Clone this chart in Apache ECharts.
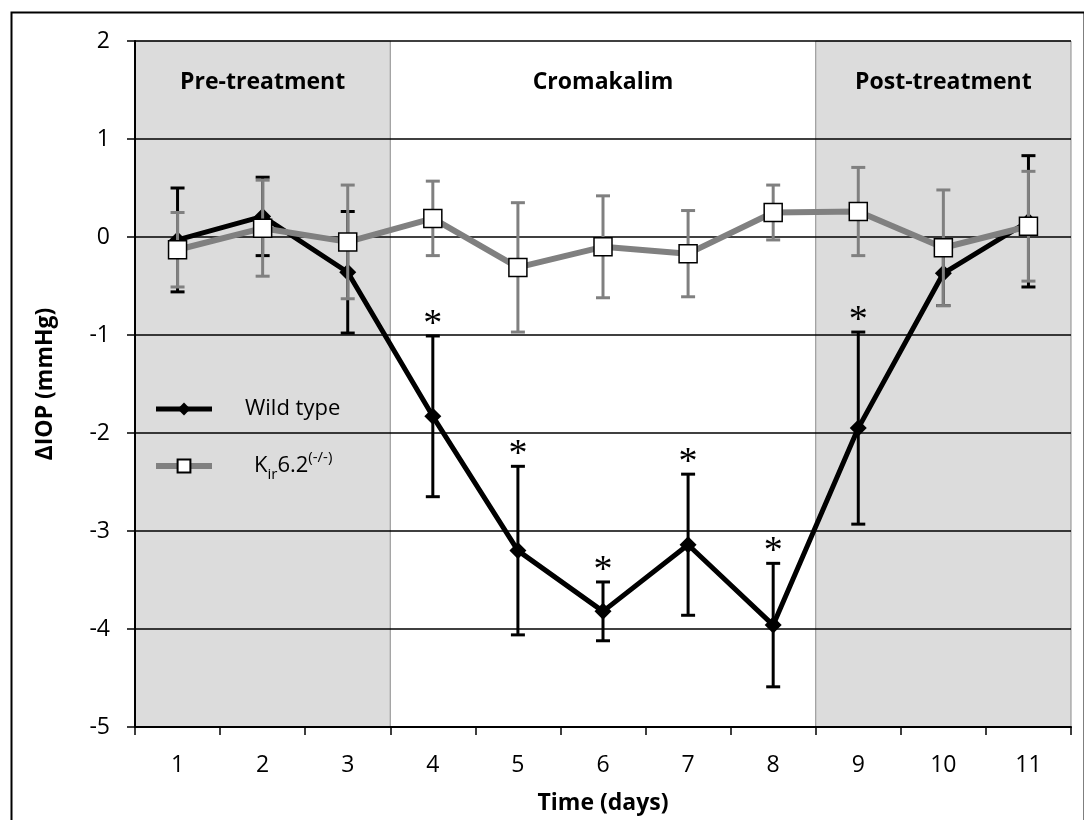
<!DOCTYPE html>
<html>
<head>
<meta charset="utf-8">
<script src="https://cdn.jsdelivr.net/npm/echarts@6/dist/echarts.min.js"></script>
<style>
html,body{margin:0;padding:0;background:#fff;}
#main{width:1084px;height:820px;}
</style>
</head>
<body>
<div id="main"></div>
<script>
// ---- data ----
var days = ['1','2','3','4','5','6','7','8','9','10','11'];
var wildType = [-0.03, 0.21, -0.36, -1.83, -3.20, -3.82, -3.14, -3.96, -1.95, -0.37, 0.16];
var wildTypeErr = [0.53, 0.40, 0.62, 0.82, 0.86, 0.30, 0.72, 0.63, 0.98, 0.33, 0.67];
var kir = [-0.13, 0.09, -0.05, 0.19, -0.31, -0.10, -0.17, 0.25, 0.26, -0.11, 0.11];
var kirErr = [0.38, 0.49, 0.58, 0.38, 0.66, 0.52, 0.44, 0.28, 0.45, 0.59, 0.56];
var sigDays = ['4','5','6','7','8','9'];
var phaseNames = ['Pre-treatment', 'Cromakalim', 'Post-treatment'];
var phaseFirstDay = [1, 4, 9];
var phaseLastDay = [3, 8, 11];
var phaseShaded = [true, false, true];
var yTicks = {min: -5, max: 2, interval: 1};

var FONT = 'Open Sans';

function errData(vals, errs, stars) {
  return vals.map(function (v, i) {
    return [i, v - errs[i], v + errs[i], stars && stars.indexOf(days[i]) >= 0 ? 1 : 0];
  });
}

function errRenderer(color, width, capHalf) {
  return function (params, api) {
    var i = api.value(0);
    var top = api.coord([i, api.value(2)]);
    var bot = api.coord([i, api.value(1)]);
    var st = {stroke: color, lineWidth: width};
    var children = [
      {type: 'line', shape: {x1: top[0], y1: top[1], x2: bot[0], y2: bot[1]}, style: st},
      {type: 'line', shape: {x1: top[0] - capHalf, y1: top[1], x2: top[0] + capHalf, y2: top[1]}, style: st},
      {type: 'line', shape: {x1: bot[0] - capHalf, y1: bot[1], x2: bot[0] + capHalf, y2: bot[1]}, style: st}
    ];
    if (api.value(3) === 1) {
      children.push({
        type: 'text',
        style: {
          text: '*', x: top[0], y: top[1] + 8,
          align: 'center', verticalAlign: 'bottom',
          font: '38px "Liberation Serif"', fill: '#000'
        }
      });
    }
    return {type: 'group', children: children};
  };
}

var areas = phaseNames.map(function (n, k) {
  return [
    {
      name: n,
      xAxis: phaseFirstDay[k] - 0.5,
      itemStyle: phaseShaded[k]
        ? {color: '#dcdcdc', borderColor: '#8c8c8c', borderWidth: 1}
        : {color: 'rgba(0,0,0,0)', borderWidth: 0},
      label: {
        show: true, position: 'insideTop', distance: 30,
        color: '#000', fontFamily: FONT, fontWeight: 'bold', fontSize: 23
      }
    },
    {xAxis: phaseLastDay[k] + 0.5}
  ];
});

var chart = echarts.init(document.getElementById('main'), null, {renderer: 'canvas'});
chart.setOption({
  backgroundColor: '#fff',
  animation: false,
  grid: {left: 135, right: 13, top: 41, bottom: 90, containLabel: false},
  xAxis: [
    {
      type: 'category', data: days, boundaryGap: true, z: 1,
      name: 'Time (days)', nameLocation: 'middle', nameGap: 65,
      nameTextStyle: {fontFamily: FONT, fontWeight: 'bold', fontSize: 23, color: '#000'},
      axisLine: {onZero: false, lineStyle: {color: '#000', width: 2}},
      axisTick: {show: true, interval: 0, alignWithLabel: false, length: 8, lineStyle: {color: '#000', width: 1.5}},
      axisLabel: {margin: 27, fontFamily: FONT, fontSize: 23, color: '#000'},
      splitLine: {show: false}
    },
    {
      type: 'value', min: 0.5, max: 11.5, show: false,
      splitLine: {show: false}
    }
  ],
  yAxis: {
    type: 'value', min: yTicks.min, max: yTicks.max, interval: yTicks.interval, z: 1,
    name: 'ΔIOP (mmHg)', nameLocation: 'middle', nameGap: 78, nameRotate: 90,
    nameTextStyle: {fontFamily: FONT, fontWeight: 'bold', fontSize: 23, color: '#000'},
    axisLine: {show: true, lineStyle: {color: '#000', width: 2}},
    axisTick: {show: true, length: 8, lineStyle: {color: '#000', width: 1.5}},
    axisLabel: {margin: 25, fontFamily: FONT, fontSize: 23, color: '#000'},
    splitLine: {show: true, lineStyle: {color: '#000', width: 1.5}}
  },
  legend: {
    orient: 'vertical', left: 148, top: 393, itemGap: 30,
    itemWidth: 56, itemHeight: 16,
    lineStyle: {width: 5},
    data: [
      {name: 'Wild type', lineStyle: {width: 5}},
      {name: 'Kir', lineStyle: {width: 6}}
    ],
    formatter: function (name) {
      if (name === 'Wild type') return '{w|Wild type}';
      return '{k|K}{sub|ir}{b|6.2}{sup|(-/-)}';
    },
    textStyle: {
      fontFamily: FONT, fontSize: 22, color: '#000',
      rich: {
        w: {fontFamily: FONT, fontSize: 22, padding: [0, 0, 0, 28], lineHeight: 32, verticalAlign: 'middle'},
        k: {fontFamily: FONT, fontSize: 22, padding: [0, 0, 0, 37], lineHeight: 32, verticalAlign: 'middle'},
        b: {fontFamily: FONT, fontSize: 22, lineHeight: 32, verticalAlign: 'middle'},
        sub: {fontFamily: FONT, fontSize: 15, lineHeight: 32, verticalAlign: 'bottom'},
        sup: {fontFamily: FONT, fontSize: 15, lineHeight: 32, verticalAlign: 'top'}
      }
    }
  },
  series: [
    {
      name: 'phases', type: 'line', xAxisIndex: 1, data: [], silent: true, z: 0,
      markArea: {silent: true, z: 0, zlevel: 0, data: areas}
    },
    {
      name: 'wtErr', type: 'custom', xAxisIndex: 0, z: 2, silent: true,
      renderItem: errRenderer('#000', 3, 7),
      data: errData(wildType, wildTypeErr, sigDays),
      encode: {x: 0, y: [1, 2]}
    },
    {
      name: 'Wild type', type: 'line', data: wildType, z: 3,
      symbol: 'diamond', symbolSize: 17,
      itemStyle: {color: '#000'},
      lineStyle: {color: '#000', width: 5}
    },
    {
      name: 'kirErr', type: 'custom', xAxisIndex: 0, z: 4, silent: true,
      renderItem: errRenderer('#808080', 3, 7),
      data: errData(kir, kirErr, null),
      encode: {x: 0, y: [1, 2]}
    },
    {
      name: 'Kir', type: 'line', data: kir, z: 5,
      symbol: 'rect', symbolSize: 18,
      itemStyle: {color: '#fff', borderColor: '#000', borderWidth: 1.5},
      lineStyle: {color: '#808080', width: 6}
    }
  ],
  graphic: [
    {
      type: 'rect', left: 9, top: 10, silent: true, z: 100,
      shape: {x: 0, y: 0, width: 1073, height: 830},
      style: {fill: 'none', stroke: '#000', lineWidth: 2}
    }
  ]
});
</script>
</body>
</html>
